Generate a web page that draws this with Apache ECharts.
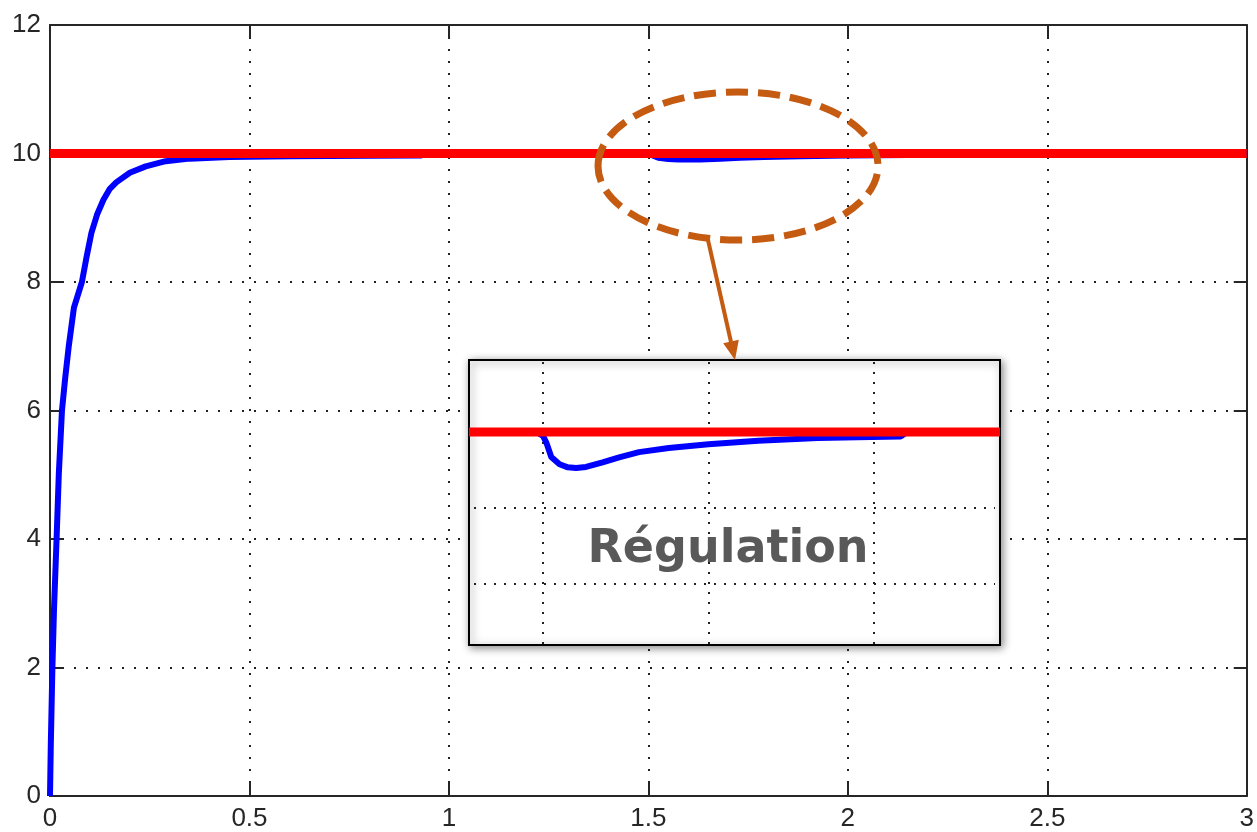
<!DOCTYPE html>
<html>
<head>
<meta charset="utf-8">
<script src="https://cdn.jsdelivr.net/npm/echarts@6/dist/echarts.min.js"></script>
<style>
    html, body { margin: 0; padding: 0; background: #fff; }
    #main { width: 1257px; height: 832px; }
</style>
</head>
<body>
<div id="main"></div>
<script>
// step response (blue), then hidden under the set point after 0.93
var stepTime = [0, 0.002, 0.006, 0.01, 0.0165, 0.022, 0.03, 0.038, 0.047, 0.06, 0.08, 0.092, 0.104, 0.118,
    0.134, 0.15, 0.166, 0.2, 0.24, 0.29, 0.35, 0.45, 0.6, 0.8, 0.93, 0.94];
var stepValue = [0, 0.8, 2.0, 2.9, 4.0, 5.0, 6.0, 6.5, 7.0, 7.6, 8.0, 8.4, 8.77, 9.05,
    9.28, 9.45, 9.55, 9.7, 9.8, 9.88, 9.92, 9.945, 9.958, 9.965, 9.97, 10];
// disturbance rejection around t = 1.5
var regTime = [1.48, 1.5, 1.511, 1.525, 1.55, 1.575, 1.6, 1.63, 1.68, 1.73, 1.79, 1.88, 2.0, 2.15, 2.33, 2.45, 2.58, 2.6, 3];
var regValue = [10, 9.99, 9.97, 9.934, 9.915, 9.907, 9.905, 9.908, 9.92, 9.933, 9.947, 9.958, 9.968, 9.977, 9.984, 9.986, 9.988, 10, 10];
// set point (red)
var refTime = [0, 3];
var refValue = [10, 10];

var xTicks = [0, 0.5, 1, 1.5, 2, 2.5, 3];
var yTicks = [0, 2, 4, 6, 8, 10, 12];
var insetGridX = [1.5, 2, 2.5];
var insetGridY = [9.6, 9.8];

function pairs(xs, ys) {
    var out = [];
    for (var i = 0; i < xs.length; i++) {
        out.push([xs[i], ys[i]]);
    }
    return out;
}

var blueData = pairs(stepTime, stepValue).concat(pairs(regTime, regValue));
var redData = pairs(refTime, refValue);

var axisColor = '#262626';
var labelFont = { color: '#262626', fontSize: 26, fontFamily: 'Liberation Sans' };
var dotted = { color: '#222', width: 2, type: [2, 10] };
var spine = { show: true, onZero: false, lineStyle: { color: axisColor, width: 2 } };
var ticks = { show: true, inside: true, length: 13, lineStyle: { color: axisColor, width: 2 } };

var chart = echarts.init(document.getElementById('main'));

var gridLines = [];
for (var i = 0; i < insetGridX.length; i++) gridLines.push({ xAxis: insetGridX[i] });
for (var j = 0; j < insetGridY.length; j++) gridLines.push({ yAxis: insetGridY[j] });

var option = {
    backgroundColor: '#fff',
    animation: false,
    grid: [
        { left: 50, top: 25, width: 1198, height: 773 },
        // inset: a bit narrower than its frame so the thick red line stops at the border
        { left: 474, top: 361, width: 521, height: 283 }
    ],
    xAxis: [
        {
            type: 'value', gridIndex: 0, position: 'bottom',
            min: xTicks[0], max: xTicks[xTicks.length - 1], interval: 0.5,
            axisLine: spine, axisTick: ticks,
            axisLabel: Object.assign({ margin: 10 }, labelFont),
            splitLine: { show: true, lineStyle: dotted }
        },
        {
            type: 'value', gridIndex: 0, position: 'top',
            min: xTicks[0], max: xTicks[xTicks.length - 1], interval: 0.5,
            axisLine: spine, axisTick: ticks,
            axisLabel: { show: false },
            splitLine: { show: false }
        },
        {
            type: 'value', gridIndex: 1, show: false,
            min: 1.2916, max: 2.8655
        }
    ],
    yAxis: [
        {
            type: 'value', gridIndex: 0, position: 'left',
            min: yTicks[0], max: yTicks[yTicks.length - 1], interval: 2,
            axisLine: spine, axisTick: ticks,
            axisLabel: Object.assign({ margin: 9 }, labelFont),
            splitLine: { show: true, lineStyle: dotted }
        },
        {
            type: 'value', gridIndex: 0, position: 'right',
            min: yTicks[0], max: yTicks[yTicks.length - 1], interval: 2,
            axisLine: spine, axisTick: ticks,
            axisLabel: { show: false },
            splitLine: { show: false }
        },
        {
            type: 'value', gridIndex: 1, show: false,
            min: 9.4421, max: 10.1868
        }
    ],
    series: [
        {
            name: 'sortie', type: 'line', xAxisIndex: 0, yAxisIndex: 0, z: 2,
            data: blueData, symbol: 'none', silent: true,
            lineStyle: { color: '#0000ff', width: 6 }
        },
        {
            name: 'consigne', type: 'line', xAxisIndex: 0, yAxisIndex: 0, z: 3,
            data: redData, symbol: 'none', silent: true,
            lineStyle: { color: '#ff0000', width: 9 }
        },
        {
            name: 'grille zoom', type: 'line', xAxisIndex: 2, yAxisIndex: 2, z: 6,
            data: [], symbol: 'none', silent: true,
            markLine: {
                silent: true, symbol: 'none', label: { show: false },
                lineStyle: { color: '#222', width: 2, type: [2, 8] },
                data: gridLines
            }
        },
        {
            name: 'sortie zoom', type: 'line', xAxisIndex: 2, yAxisIndex: 2, z: 7,
            data: blueData, symbol: 'none', silent: true,
            lineStyle: { color: '#0000ff', width: 6 }
        },
        {
            name: 'consigne zoom', type: 'line', xAxisIndex: 2, yAxisIndex: 2, z: 8,
            data: redData, symbol: 'none', silent: true,
            lineStyle: { color: '#ff0000', width: 9 }
        }
    ],
    graphic: [
        {
            type: 'rect', z: 5, silent: true,
            shape: { x: 469, y: 360, width: 531, height: 285 },
            style: {
                fill: '#fff', stroke: '#000', lineWidth: 2,
                shadowBlur: 8, shadowColor: 'rgba(0,0,0,0.45)', shadowOffsetX: 2, shadowOffsetY: 2
            }
        },
        {
            type: 'text', z: 10, silent: true,
            x: 728, y: 550,
            style: {
                text: 'Régulation', fill: '#595959',
                font: 'bold 46px "DejaVu Sans"',
                textAlign: 'center', textVerticalAlign: 'middle'
            }
        },
        {
            type: 'ellipse', z: 10, silent: true,
            shape: { cx: 738, cy: 166, rx: 140, ry: 74 },
            style: { fill: 'none', stroke: '#c55a11', lineWidth: 7, lineDash: [22, 10] }
        },
        {
            type: 'line', z: 10, silent: true,
            shape: { x1: 708, y1: 240, x2: 731, y2: 342 },
            style: { stroke: '#c55a11', lineWidth: 4 }
        },
        {
            type: 'polygon', z: 10, silent: true,
            shape: { points: [[738.8, 339.7], [723.2, 343.3], [735, 360]] },
            style: { fill: '#c55a11' }
        }
    ]
};

chart.setOption(option);

window.onresize = function () {
    chart.resize();
};
</script>
</body>
</html>
